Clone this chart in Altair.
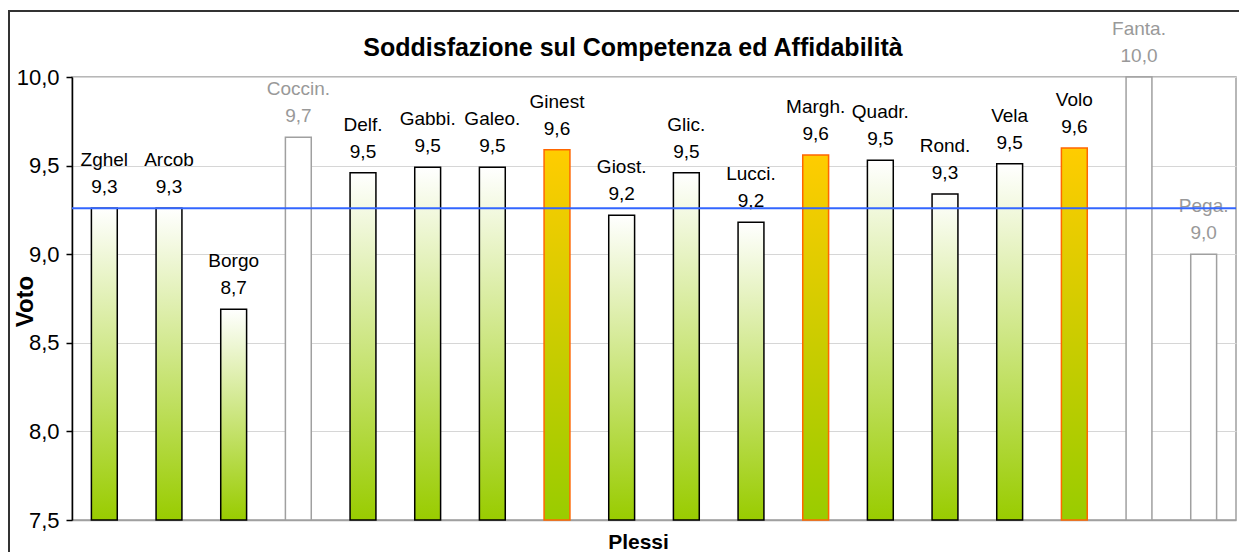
import altair as alt
import pandas as pd

# ---- data ----
names = ["Zghel", "Arcob", "Borgo", "Coccin.", "Delf.", "Gabbi.", "Galeo.", "Ginest",
         "Giost.", "Glic.", "Lucci.", "Margh.", "Quadr.", "Rond.", "Vela", "Volo",
         "Fanta.", "Pega."]
values = [9.26, 9.26, 8.69, 9.66, 9.46, 9.49, 9.49, 9.59,
          9.22, 9.46, 9.18, 9.56, 9.53, 9.34, 9.51, 9.60,
          10.0, 9.0]
kinds = ["verde", "verde", "verde", "grigio", "verde", "verde", "verde", "arancio",
         "verde", "verde", "verde", "arancio", "verde", "verde", "verde", "arancio",
         "grigio", "grigio"]
average_line = 9.26
y_ticks = [7.5, 8.0, 8.5, 9.0, 9.5, 10.0]
y_domain = [7.5, 10.0]

labels = [f"{v:.1f}".replace(".", ",") for v in values]
df = pd.DataFrame({"plesso": names, "voto": values, "tipo": kinds, "etichetta": labels})

FONT = "Liberation Sans, Arial, sans-serif"
W, H = 1164, 443

x_enc = alt.X(
    "plesso:N", sort=None,
    scale=alt.Scale(domain=names, paddingInner=0.6, paddingOuter=0.3),
    axis=alt.Axis(title="Plessi", labels=False, ticks=False, grid=False,
                  domainColor="#a0a0a0", domainWidth=1.5,
                  titleFontSize=21, titleFontWeight="bold", titleColor="black",
                  titleX=566, titleY=28, titleAlign="center", titleBaseline="alphabetic"),
)
y_scale = alt.Scale(domain=y_domain, zero=False, nice=False)
y_enc = alt.Y(
    "voto:Q", scale=y_scale,
    axis=alt.Axis(title="Voto", values=y_ticks,
                  labelExpr="replace(format(datum.value, '.1f'), '.', ',')",
                  labelFontSize=22, labelColor="black", labelPadding=7,
                  domainColor="black", domainWidth=1.5,
                  tickColor="black", tickSize=6, tickWidth=1.5,
                  grid=True, gridColor="#d6d6d6", gridWidth=1,
                  titleFontSize=24, titleFontWeight="bold", titleColor="black",
                  titleX=-47, titleY=224, titleAngle=270,
                  titleAlign="center", titleBaseline="middle"),
)

base = alt.Chart(df).encode(x=x_enc, y=y_enc)

green_grad = alt.LinearGradient(
    gradient="linear", x1=0, x2=0, y1=1, y2=0,
    stops=[alt.GradientStop(color="#99CC00", offset=0),
           alt.GradientStop(color="#FFFFFF", offset=1)])
orange_grad = alt.LinearGradient(
    gradient="linear", x1=0, x2=0, y1=1, y2=0,
    stops=[alt.GradientStop(color="#99CC00", offset=0),
           alt.GradientStop(color="#FFCC00", offset=1)])

bars_green = base.transform_filter("datum.tipo == 'verde'").mark_bar(
    fill=green_grad, stroke="black", strokeWidth=1.5).encode(y2=alt.datum(7.5))
bars_orange = base.transform_filter("datum.tipo == 'arancio'").mark_bar(
    fill=orange_grad, stroke="#FF6600", strokeWidth=1.5).encode(y2=alt.datum(7.5))
bars_gray = base.transform_filter("datum.tipo == 'grigio'").mark_bar(
    fill="white", stroke="#a0a0a0", strokeWidth=1.5).encode(y2=alt.datum(7.5))

text_color = alt.Color("tipo:N",
                       scale=alt.Scale(domain=["verde", "arancio", "grigio"],
                                       range=["black", "black", "#999999"]),
                       legend=None)

value_text = base.mark_text(fontSize=19, baseline="alphabetic", dy=-15, font=FONT).encode(
    text="etichetta:N", color=text_color)
name_text = base.mark_text(fontSize=19, baseline="alphabetic", dy=-42, font=FONT).encode(
    text="plesso:N", color=text_color)

avg_rule = alt.Chart(pd.DataFrame({"m": [average_line]})).mark_rule(
    color="#3366FF", strokeWidth=2).encode(y=alt.datum(average_line))

frame = alt.Chart(pd.DataFrame({"f": [0]})).mark_rect(
    fillOpacity=0, stroke="#333333", strokeWidth=2).encode(
    x=alt.value(-63), x2=alt.value(1300), y=alt.value(-66), y2=alt.value(700))

chart = alt.layer(
    bars_green, bars_orange, bars_gray, value_text, name_text, avg_rule, frame
).properties(
    width=W, height=H,
    title=alt.TitleParams("Soddisfazione sul Competenza ed Affidabilità",
                          fontSize=25, fontWeight="bold", color="black", font=FONT,
                          anchor="middle", dx=-21, frame="group", offset=-71,
                          baseline="alphabetic"),
    autosize=alt.AutoSizeParams(type="none"),
    padding={"left": 64, "top": 69, "right": 3, "bottom": 32},
).configure(
    font=FONT
).configure_view(
    stroke="#a0a0a0", strokeWidth=1.5
)

chart.save("out.html", embed_options={"renderer": "svg", "actions": False})
